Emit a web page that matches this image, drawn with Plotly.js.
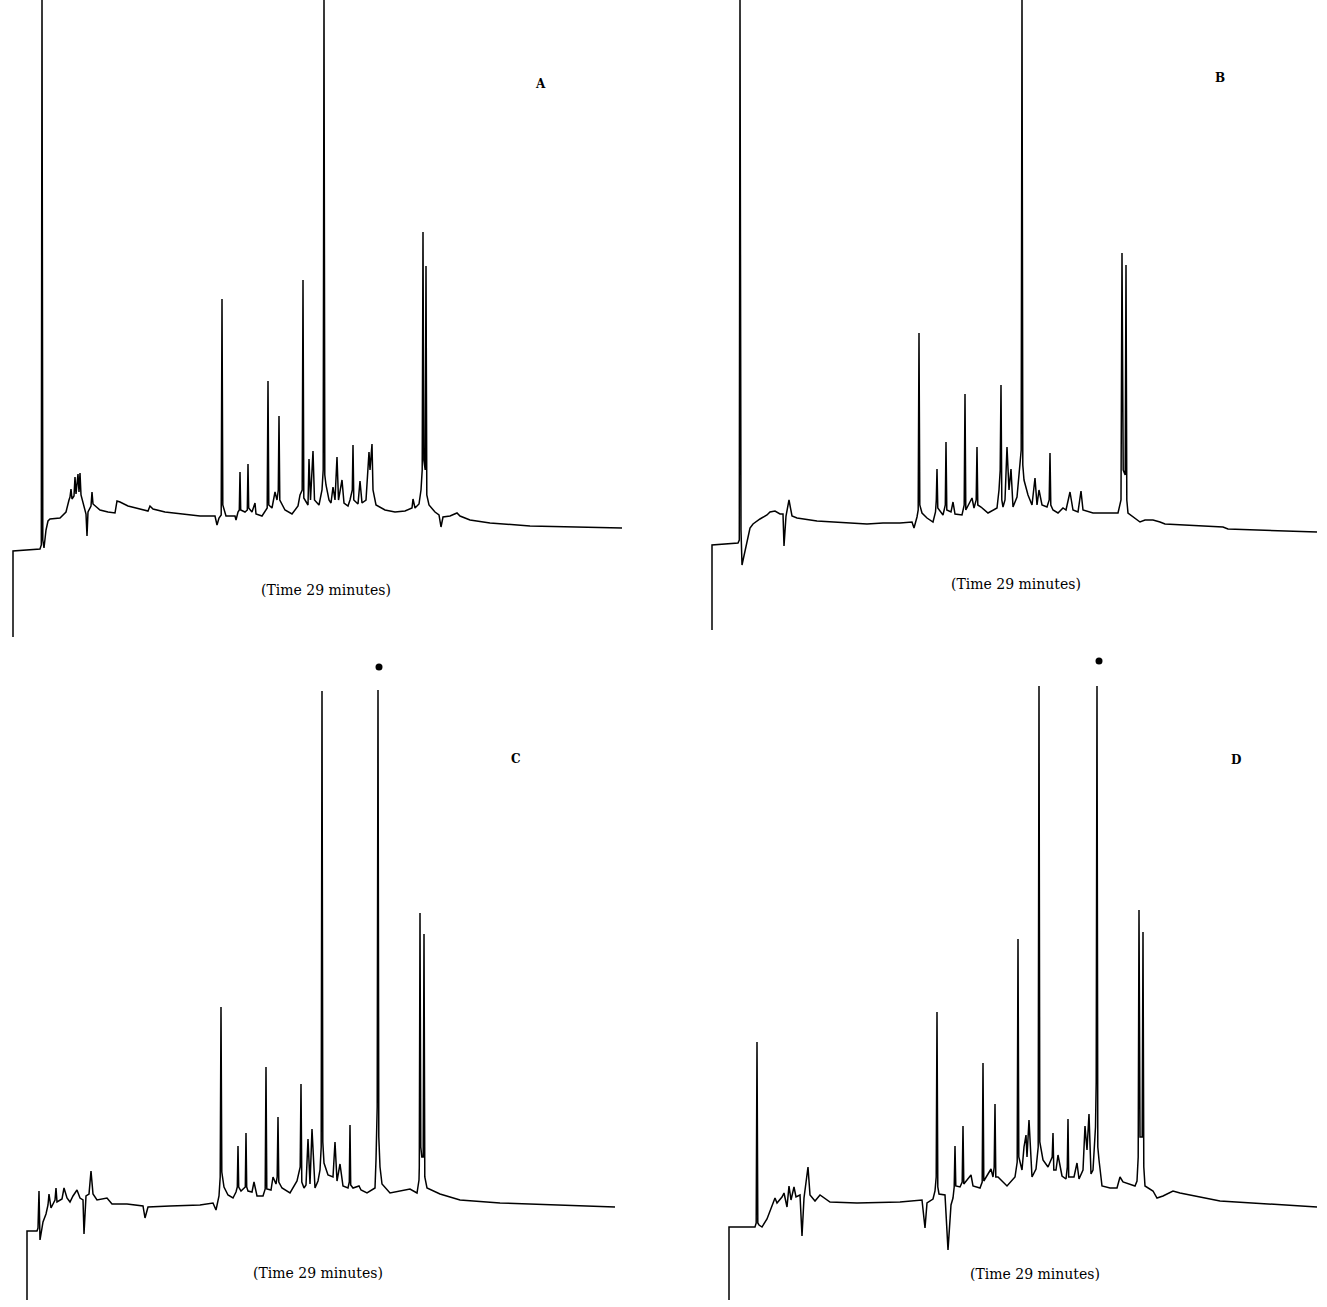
<!DOCTYPE html>
<html>
<head>
<meta charset="utf-8">
<script src="https://cdn.plot.ly/plotly-3.0.1.min.js"></script>
<style>html,body{margin:0;padding:0;background:#fff;}#chart{width:1327px;height:1307px;}</style>
</head>
<body>
<div id="chart"></div>
<script>
// Panel A: time (arbitrary units) and detector response
const timeA = [13,13,40,41.3,42,42.8,44,46,48,50,60,66,69,70,71,72,74,75,76,78,79,80,81,84,86,87,88,91,92,93,96,100,108,115,117,120,128,140,148,150,153,165,180,200,215,217,219,221.2,222,222.8,226,235,236,238,239.3,240,240.7,245,247.3,248,248.7,252,255,256,262,265,267.2,268,268.8,272,275,277,278.3,279,279.8,285,292,298,300,302.2,303,303.8,308,309,310.5,313,314.5,319,322,323.2,324,324.8,326,329,331,333,335,337,338.5,342,344,348,350,352.3,353,353.8,358,360,362,366,367,369,370,372,373,376,385,395,405,412,413,415,419,421,422.2,423,423.8,425.2,426,426.8,429,435,439,441,443,450,457,460,470,490,530,580,622];
const respA = [3,89,91,95,640,100,92,110,119,121,122,128,140,143,151,141,144,163,146,166,148,167,145,135,126,104,128,134,148,136,133,130,128,127,139,138,134,131,129,134,131,128,126,124,124,115,122,125,341,135,124,124,120,128,130,168,130,128,130,176,132,128,137,126,124,128,132,259,135,132,148,140,150,224,140,130,126,134,145,150,360,142,135,181,140,189,140,135,150,170,640,165,155,140,137,153,140,183,140,160,137,134,140,150,195,140,136,159,137,140,160,188,170,196,150,135,130,128,129,132,141,132,136,150,170,408,180,170,374,145,135,128,125,113,123,124,127,124,120,117,114,113,112];

// Panel B
const timeB = [12,12,38,39.3,40,41,42,46,50,53,60,67,70,75,80,83,84,86,89,92,97,117,133,150,167,183,200,212,214,217,218.2,219,219.8,222,227,233,235.5,236.3,237,237.8,243,245.3,246,246.8,251,253,255,262,264.2,265,265.8,272,274,276.2,277,277.8,281,288,297,299,300.2,301,301.8,303,305,307,309,311,313,317,319,321.2,322,322.8,324,328,332,335,337,339,342,347,349.2,350,350.8,353,358,363,366,370,373,378,381,383,393,413,418,421,422,423.2,425.2,426,426.8,428,433,440,445,453,460,465,523,528,617];
const respB = [10,95,97,100,640,110,75,95,112,116,121,125,128,129,126,126,94,124,140,124,122,119,118,117,116,117,117,118,112,123,130,307,135,127,122,118,128,140,171,132,125,135,198,130,128,138,126,125,135,246,130,142,132,140,193,135,133,127,132,150,170,255,140,133,140,193,150,171,133,143,170,190,640,175,160,145,135,162,135,150,135,133,140,187,135,130,127,132,130,148,130,128,149,130,127,127,127,140,387,170,165,375,140,127,123,118,120,120,118,116,113,111,108];

// Panel C
const timeC = [27,27,37,38,39,40,43,46,48,49,51,53,55,56,57,62,64,67,70,73,77,80,83,84,86,89,91,93,97,107,112,127,143,145,148,170,200,213,216,219,220.2,221,221.8,224,228,233,236,237.3,238,238.7,241,245.3,246,246.7,248,252,254,257,263,265.2,266,266.8,271,273,276,277.2,278,278.8,282,290,297,300.2,301,301.8,304,306,308,310,312,315,318,320,321.2,322,322.8,324,328,333,335,337,340,343,348,349.3,350,350.7,353,359,361,367,375,376,377.2,378,378.8,380,382,390,410,417,419,419.3,420,420.8,421.8,423.2,424,424.8,427,440,460,500,560,615];
const respC = [7,76,76,79,116,67,85,93,102,113,99,103,107,119,105,108,119,109,105,111,117,109,107,73,111,113,136,113,107,109,103,103,101,89,100,101,102,104,97,111,130,300,135,120,112,109,115,120,161,120,116,120,174,120,116,115,125,111,111,118,240,118,117,130,123,130,190,125,119,114,126,140,223,125,119,122,168,123,178,119,126,137,160,616,165,144,132,130,165,126,143,121,119,125,182,122,119,121,117,114,119,147,200,617,170,140,123,114,118,114,127,140,394,160,150,150,373,130,119,113,107,104,102,100];

// Panel D
const timeD = [29,29,55,56.2,57,57.8,59,62,67,74,75,77,82,84,87,89,91,94,96,100,102,104,108,110,115,120,130,157,200,222,225,227,233,235,236.2,237,237.8,239,245,248,251,253,254.2,255,255.8,260,262.2,263,263.8,271,273,280,282.2,283,283.8,291,293,294.2,295,295.8,298,307,315,317.2,318,318.8,322,324,326,327,329,332,336,338.2,339,339.8,343,348,352.2,353,353.8,356,358,362,366,367.3,368,368.7,371,374,377,379,383,385,387,389,391,393,395.5,396.2,397,397.8,399,402,410,417,420,423,435,437,438.2,439,440,442.2,443,443.8,445,453,457,463,473,480,520,617];
const respD = [7,80,80,84,265,84,82,80,88,106,109,104,110,114,100,121,107,120,110,112,71,109,140,112,106,112,105,104,105,107,79,104,108,116,130,295,120,113,112,57,102,109,120,161,121,120,125,181,123,132,121,119,125,244,126,138,130,140,203,130,130,121,130,145,368,150,137,160,172,150,187,130,138,160,621,165,147,140,150,174,137,137,152,131,128,140,188,130,130,130,144,128,137,181,157,193,133,137,180,225,621,160,147,121,119,119,130,125,121,126,150,397,170,170,375,140,121,116,109,111,116,114,106,100];

// Marked peaks (dots) in C and D
const dotTimeC = [379], dotRespC = [640];
const dotTimeD = [399], dotRespD = [646];

const panelLabels = ['A','B','C','D'];
const timeLabel = '(Time 29 minutes)';

const W = 1327, H = 1307;
const lineStyle = {color:'#000', width:1.5};
const traces = [
  {x:timeA, y:respA, xaxis:'x', yaxis:'y', mode:'lines', line:lineStyle},
  {x:timeB, y:respB, xaxis:'x2', yaxis:'y2', mode:'lines', line:lineStyle},
  {x:timeC, y:respC, xaxis:'x3', yaxis:'y3', mode:'lines', line:lineStyle},
  {x:timeD, y:respD, xaxis:'x4', yaxis:'y4', mode:'lines', line:lineStyle},
  {x:dotTimeC, y:dotRespC, xaxis:'x3', yaxis:'y3', mode:'markers', cliponaxis:false, marker:{color:'#000', size:7}},
  {x:dotTimeD, y:dotRespD, xaxis:'x4', yaxis:'y4', mode:'markers', cliponaxis:false, marker:{color:'#000', size:7}}
];

function ax(domain, range){
  return {domain:domain, range:range, visible:false, showgrid:false, zeroline:false, fixedrange:true};
}
const topDom = [1-640/H, 1], botDom = [0, 647/H];
const leftDom = [0, 663/W], rightDom = [700/W, 1];

const fontTxt = {family:'"DejaVu Serif", "Liberation Serif", serif', size:14, color:'#000'};
const fontLbl = {family:'"DejaVu Serif", "Liberation Serif", serif', size:12, color:'#000', weight:'bold'};

const annotations = [
  {text:panelLabels[0], x:540/W, y:1-84/H},
  {text:panelLabels[1], x:1220/W, y:1-78/H},
  {text:panelLabels[2], x:516/W, y:1-759/H},
  {text:panelLabels[3], x:1236/W, y:1-760/H}
].map(a => Object.assign(a, {xref:'paper', yref:'paper', showarrow:false, xanchor:'center', yanchor:'middle', font:fontLbl}))
.concat([
  {x:326/W, y:1-590/H},
  {x:1016/W, y:1-584/H},
  {x:318/W, y:1-1273/H},
  {x:1035/W, y:1-1274/H}
].map(a => Object.assign(a, {text:timeLabel, xref:'paper', yref:'paper', showarrow:false, xanchor:'center', yanchor:'middle', font:fontTxt})));

const layout = {
  width:W, height:H,
  margin:{l:0, r:0, t:0, b:0, pad:0},
  paper_bgcolor:'#fff', plot_bgcolor:'rgba(0,0,0,0)',
  showlegend:false,
  xaxis:ax(leftDom,[0,663]), yaxis:ax(topDom,[0,640]),
  xaxis2:ax(rightDom,[0,627]), yaxis2:ax(topDom,[0,640]),
  xaxis3:ax(leftDom,[0,663]), yaxis3:ax(botDom,[0,647]),
  xaxis4:ax(rightDom,[0,627]), yaxis4:ax(botDom,[0,647]),
  annotations:annotations
};

Plotly.newPlot('chart', traces, layout, {displayModeBar:false, staticPlot:true});
</script>
</body>
</html>
